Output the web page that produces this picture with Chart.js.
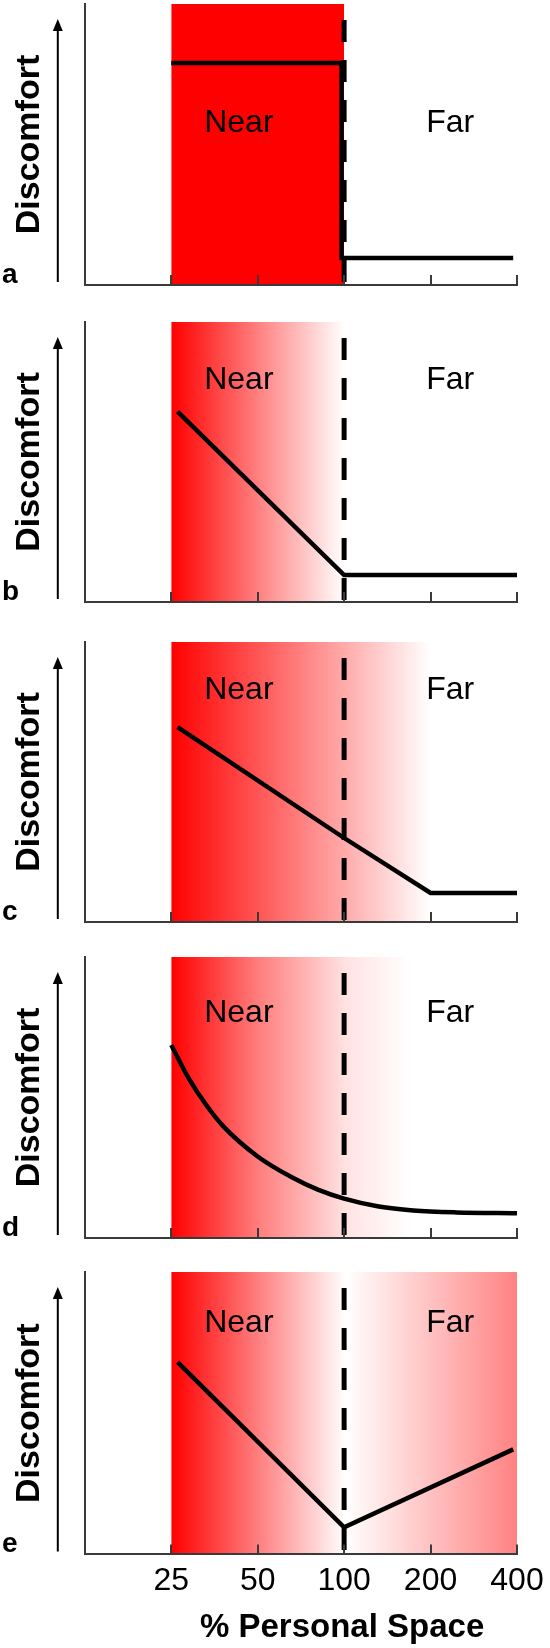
<!DOCTYPE html>
<html>
<head>
<meta charset="utf-8">
<script src="https://cdn.jsdelivr.net/npm/chart.js@4"></script>
<style>
  body { margin: 0; background: #fff; }
  #wrap { position: relative; width: 550px; height: 1648px; }
  canvas { position: absolute; left: 0; }
</style>
</head>
<body>
<div id="wrap">
  <canvas id="panelA" width="550" height="299" style="top:0px"></canvas>
  <canvas id="panelB" width="550" height="298" style="top:318px"></canvas>
  <canvas id="panelC" width="550" height="298" style="top:638px"></canvas>
  <canvas id="panelD" width="550" height="299" style="top:953px"></canvas>
  <canvas id="panelE" width="550" height="380" style="top:1268px"></canvas>
</div>
<script>
// x axis: % personal space (log scale), y axis: discomfort (0..10, unitless)
const tickValues = [25, 50, 100, 200, 400];
const tickLabels = ['25', '50', '100', '200', '400'];
const panelLetters = ['a', 'b', 'c', 'd', 'e'];

// dashed line at 100 %
const thresholdX = [100, 100];
const thresholdY = [9.43, 0];

// red "near" zone, per panel
const zoneStart = [25, 25, 25, 25, 25];
const zoneEnd = [100, 100, 200, 170, 400];

// discomfort curves
const aX = [25, 98, 98, 388];
const aY = [7.9, 7.9, 0.96, 0.96];
const bX = [26.3, 100, 400];
const bY = [6.8, 0.96, 0.96];
const cX = [26.3, 100, 200, 400];
const cY = [6.96, 3.0, 1.04, 1.04];
const dX = [25, 28.7, 33, 37.9, 50, 66, 81, 100, 132, 174, 246, 400];
const dY = [6.87, 5.7, 4.75, 3.98, 2.9, 2.15, 1.72, 1.4, 1.12, 0.98, 0.91, 0.88];
const eX = [26.3, 100, 388];
const eY = [6.81, 0.96, 3.72];

// "Near" / "Far" label positions
const nearX = 43;
const farX = 234;
const labelY = [5.77, 7.93, 8.29, 8.0, 8.19];

const AXIS_COLOR = '#3a3a3a';
const FONT = '"Liberation Sans", Arial, sans-serif';
const zoneStops = [
  [[0, '#ff0000'], [1, '#ff0000']],
  [[0, '#ff0000'], [1, '#ffffff']],
  [[0, '#ff0000'], [1, '#ffffff']],
  [[0, '#ff0000'], [0.36, '#ff7c7c'], [0.73, '#ffe2e2'], [1, '#ffffff']],
  [[0, '#ff0000'], [0.505, '#ffffff'], [1, '#ff8282']]
];

Chart.defaults.font.family = FONT;
Chart.defaults.color = '#000';

function toPoints(xs, ys) {
  return xs.map((x, i) => ({ x, y: ys[i] }));
}

const decor = {
  id: 'decor',
  afterDatasetsDraw(chart, args, opts) {
    const { ctx, chartArea: area, scales: { x, y } } = chart;
    ctx.save();

    // small tick marks pointing into the plot
    ctx.strokeStyle = AXIS_COLOR;
    ctx.lineWidth = 2;
    tickValues.forEach(v => {
      const px = Math.round(x.getPixelForValue(v));
      ctx.beginPath();
      ctx.moveTo(px, area.bottom);
      ctx.lineTo(px, area.bottom - 10);
      ctx.stroke();
    });

    ctx.fillStyle = '#000';
    ctx.font = '32px ' + FONT;
    ctx.textAlign = 'center';
    ctx.textBaseline = 'middle';
    ctx.fillText('Near', x.getPixelForValue(nearX), y.getPixelForValue(opts.labelY));
    ctx.fillText('Far', x.getPixelForValue(farX), y.getPixelForValue(opts.labelY));

    // arrow next to the y title
    const ax = area.left - 27;
    const tip = area.top + 15;
    ctx.strokeStyle = '#000';
    ctx.lineWidth = 2;
    ctx.beginPath();
    ctx.moveTo(ax, area.bottom - 3);
    ctx.lineTo(ax, tip + 8);
    ctx.stroke();
    ctx.beginPath();
    ctx.moveTo(ax, tip);
    ctx.lineTo(ax - 5, tip + 12);
    ctx.lineTo(ax + 5, tip + 12);
    ctx.closePath();
    ctx.fill();

    ctx.font = 'bold 28px ' + FONT;
    ctx.textAlign = 'left';
    ctx.textBaseline = 'alphabetic';
    ctx.fillText(opts.letter, 2, area.bottom - 2);

    if (opts.title) {
      ctx.font = 'bold 33px ' + FONT;
      ctx.textAlign = 'center';
      ctx.textBaseline = 'middle';
      ctx.fillText(opts.title, x.getPixelForValue(100) - 2, area.bottom + 74);
    }
    ctx.restore();
  }
};

const panels = [
  { id: 'panelA', xs: aX, ys: aY, smooth: false, bottom: 14 },
  { id: 'panelB', xs: bX, ys: bY, smooth: false, bottom: 14 },
  { id: 'panelC', xs: cX, ys: cY, smooth: false, bottom: 14 },
  { id: 'panelD', xs: dX, ys: dY, smooth: true, bottom: 14 },
  { id: 'panelE', xs: eX, ys: eY, smooth: false, bottom: 40 }
];

panels.forEach((p, i) => {
  const last = i === panels.length - 1;
  const stops = zoneStops[i];

  new Chart(document.getElementById(p.id), {
    type: 'line',
    data: {
      datasets: [
        {
          data: toPoints(p.xs, p.ys),
          borderColor: '#000',
          borderWidth: 4.5,
          pointRadius: 0,
          tension: 0,
          cubicInterpolationMode: p.smooth ? 'monotone' : 'default',
          fill: false
        },
        {
          data: toPoints(thresholdX, thresholdY),
          borderColor: '#000',
          borderWidth: 5,
          borderDash: [22, 18],
          borderCapStyle: 'butt',
          pointRadius: 0,
          fill: false
        },
        {
          data: [{ x: zoneStart[i], y: 10 }, { x: zoneEnd[i], y: 10 }],
          borderWidth: 0,
          pointRadius: 0,
          fill: 'origin',
          backgroundColor: (context) => {
            const chart = context.chart;
            if (!chart.chartArea) return 'rgba(0,0,0,0)';
            const xs = chart.scales.x;
            const x0 = xs.getPixelForValue(zoneStart[i]);
            const x1 = xs.getPixelForValue(zoneEnd[i]);
            const g = chart.ctx.createLinearGradient(x0, 0, x1, 0);
            stops.forEach(s => g.addColorStop(s[0], s[1]));
            return g;
          }
        }
      ]
    },
    options: {
      responsive: false,
      animation: false,
      devicePixelRatio: 1,
      layout: { padding: { top: 4, right: 33, bottom: p.bottom, left: 0 } },
      plugins: {
        legend: { display: false },
        tooltip: { enabled: false },
        decor: {
          letter: panelLetters[i],
          labelY: labelY[i],
          title: last ? '% Personal Space' : null
        }
      },
      scales: {
        x: {
          type: 'logarithmic',
          min: 12.5,
          max: 400,
          afterBuildTicks: s => { s.ticks = tickValues.map(v => ({ value: v })); },
          ticks: {
            display: last,
            autoSkip: false,
            maxRotation: 0,
            padding: 6,
            color: '#000',
            font: { size: 32, lineHeight: 1.3 },
            callback: v => tickLabels[tickValues.indexOf(v)]
          },
          grid: { display: false, drawTicks: false },
          border: { display: true, color: AXIS_COLOR, width: 2, z: 1 }
        },
        y: {
          min: 0,
          max: 10,
          ticks: { display: false },
          grid: { display: false, drawTicks: false },
          border: { display: true, color: AXIS_COLOR, width: 2, z: 1 },
          title: {
            display: true,
            text: 'Discomfort',
            color: '#000',
            font: { size: 34, weight: 'bold' },
            padding: { top: 9, bottom: 35 }
          }
        }
      }
    },
    plugins: [decor]
  });
});
</script>
</body>
</html>
